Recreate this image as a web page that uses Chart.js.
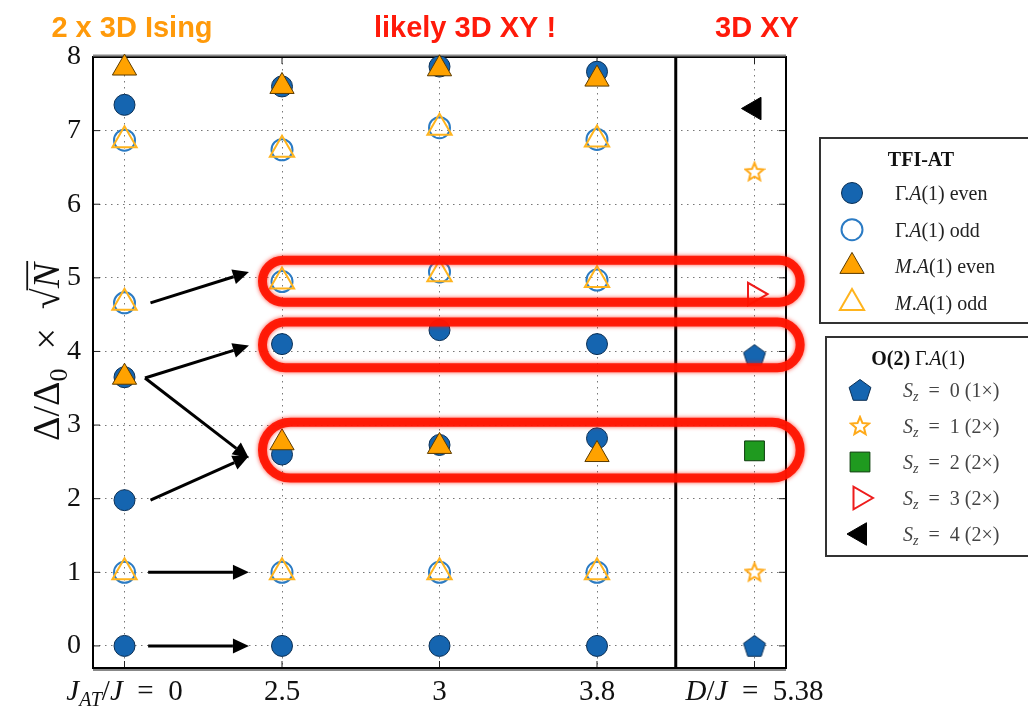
<!DOCTYPE html>
<html>
<head>
<meta charset="utf-8">
<script src="https://cdn.jsdelivr.net/npm/chart.js@4.4.0/dist/chart.umd.min.js"></script>
<style>
  html, body { margin: 0; padding: 0; background: #fff; }
  #wrap { width: 1028px; height: 709px; }
</style>
</head>
<body>
<div id="wrap"><canvas id="gaps" width="1028" height="709"></canvas></div>
<script>
// x positions: 0..3 are J_AT/J = 0, 2.5, 3, 3.8 ; 4 is the O(2) column
var column_labels = ["J_AT/J = 0", "2.5", "3", "3.8", "D/J = 5.38"];
var y_min = -0.3;
var y_max = 8;
var divider_x = 3.5;

// TFI-AT levels, one inner list per column
var gamma_even = [[7.35, 3.65, 1.98, 0], [7.6, 4.1, 2.6, 0], [7.87, 4.29, 2.73, 0], [7.8, 4.1, 2.82, 0]];
var gamma_odd = [[6.87, 4.66, 1], [6.74, 4.95, 1], [7.04, 5.08, 1], [6.88, 4.97, 1]];
var m_even = [[7.85, 3.65], [7.6, 2.76], [7.84, 2.71], [7.7, 2.6]];
var m_odd = [[6.87, 4.66, 1], [6.74, 4.95, 1], [7.04, 5.05, 1], [6.88, 4.97, 1]];

// O(2) levels at D/J = 5.38
var o2_column = 4;
var sz0 = [0, 3.95];
var sz1 = [1, 6.44];
var sz2 = [2.65];
var sz3 = [4.78];
var sz4 = [7.3];

// hand drawn highlight bands [y low, y high], x from band_x0 to band_x1
var bands = [[4.67, 5.24], [3.78, 4.4], [2.28, 3.04]];
var band_x0 = 0.876;
var band_x1 = 4.29;

// arrows [x0, y0, x1, y1]
var arrows = [
  [0.15, 0, 0.79, 0],
  [0.15, 1, 0.79, 1],
  [0.165, 1.98, 0.79, 2.58],
  [0.13, 3.64, 0.79, 2.55],
  [0.13, 3.64, 0.79, 4.08],
  [0.165, 4.66, 0.79, 5.08],
];

var SERIF = '"Liberation Serif", "DejaVu Serif", serif';
var EQ = "\u2002=\u2002";

function columnPoints(cols) {
  var pts = [];
  cols.forEach(function (ys, i) {
    ys.forEach(function (y) { pts.push({ x: i, y: y }); });
  });
  return pts;
}
function o2Points(ys) {
  return ys.map(function (y) { return { x: o2_column, y: y }; });
}

function pentagon() {
  var c = document.createElement("canvas");
  c.width = 26; c.height = 26;
  var g = c.getContext("2d");
  g.beginPath();
  for (var i = 0; i < 5; i++) {
    var a = -Math.PI / 2 + i * 2 * Math.PI / 5;
    g.lineTo(13 + 11.5 * Math.cos(a), 14 + 11.5 * Math.sin(a));
  }
  g.closePath();
  g.fillStyle = "#1565b0";
  g.fill();
  g.strokeStyle = "#0a2f55";
  g.lineWidth = 1;
  g.stroke();
  return c;
}
function star() {
  var c = document.createElement("canvas");
  c.width = 22; c.height = 22;
  var g = c.getContext("2d");
  g.beginPath();
  for (var i = 0; i < 10; i++) {
    var a = -Math.PI / 2 + i * Math.PI / 5;
    var r = i % 2 ? 4.2 : 9.5;
    g.lineTo(11 + r * Math.cos(a), 11.5 + r * Math.sin(a));
  }
  g.closePath();
  g.fillStyle = "#fff";
  g.fill();
  g.strokeStyle = "#ffaa1a";
  g.lineWidth = 2;
  g.stroke();
  return c;
}

var styles = {
  gammaEven: { pointStyle: "circle", radius: 10.5, backgroundColor: "#1565b0", borderColor: "#0a2f55", borderWidth: 1, rotation: 0 },
  gammaOdd: { pointStyle: "circle", radius: 10.5, backgroundColor: "rgba(0,0,0,0)", borderColor: "#2b7bc4", borderWidth: 2, rotation: 0 },
  mEven: { pointStyle: "triangle", radius: 14, backgroundColor: "#ffa200", borderColor: "#5b3b00", borderWidth: 1, rotation: 0 },
  mOdd: { pointStyle: "triangle", radius: 14, backgroundColor: "rgba(0,0,0,0)", borderColor: "#ffb41e", borderWidth: 2, rotation: 0 },
  sz0: { pointStyle: pentagon(), radius: 11, backgroundColor: "#1565b0", borderColor: "#0a2f55", borderWidth: 1, rotation: 0 },
  sz1: { pointStyle: star(), radius: 9, backgroundColor: "#fff", borderColor: "#ffaa1a", borderWidth: 2, rotation: 0 },
  sz2: { pointStyle: "rect", radius: 14, backgroundColor: "#1f9a1f", borderColor: "#0c3d0c", borderWidth: 1, rotation: 0 },
  sz3: { pointStyle: "triangle", radius: 13, backgroundColor: "rgba(0,0,0,0)", borderColor: "#ee1c1c", borderWidth: 2, rotation: 90 },
  sz4: { pointStyle: "triangle", radius: 13, backgroundColor: "#000", borderColor: "#000", borderWidth: 1, rotation: -90 },
};

// order: later series are drawn over earlier ones
function dataset(label, data, s, order) {
  return {
    label: label,
    data: data,
    order: order,
    pointStyle: s.pointStyle,
    pointRadius: s.radius,
    pointHoverRadius: s.radius,
    pointRotation: s.rotation,
    pointBackgroundColor: s.backgroundColor,
    pointBorderColor: s.borderColor,
    pointBorderWidth: s.borderWidth,
    clip: false,
  };
}

// rich text: parts {t, it, b, sub, over}
function partFont(p, size) {
  var s = p.sub ? Math.round(size * 0.68) : size;
  return (p.it ? "italic " : "") + (p.b ? "bold " : "") + s + "px " + SERIF;
}
function richWidth(ctx, parts, size) {
  var w = 0;
  parts.forEach(function (p) { ctx.font = partFont(p, size); w += ctx.measureText(p.t).width; });
  return w;
}
function drawRich(ctx, parts, x, y, size, align) {
  var w = richWidth(ctx, parts, size);
  var cx = align === "center" ? x - w / 2 : x;
  ctx.textAlign = "left";
  ctx.textBaseline = "alphabetic";
  parts.forEach(function (p) {
    ctx.font = partFont(p, size);
    var pw = ctx.measureText(p.t).width;
    ctx.fillText(p.t, cx, y + (p.sub ? size * 0.22 : 0));
    if (p.over) ctx.fillRect(cx - 2, y - size * 0.86, pw + 4, 1.8);
    cx += pw;
  });
}

var tick_parts = [
  [{ t: "J", it: 1 }, { t: "AT", it: 1, sub: 1 }, { t: "/" }, { t: "J", it: 1 }, { t: EQ + "0" }],
  [{ t: column_labels[1] }],
  [{ t: column_labels[2] }],
  [{ t: column_labels[3] }],
  [{ t: "D", it: 1 }, { t: "/" }, { t: "J", it: 1 }, { t: EQ + "5.38" }],
];

var tfi_legend = [
  ["gammaEven", [{ t: "Γ." }, { t: "A", it: 1 }, { t: "(1) even" }]],
  ["gammaOdd", [{ t: "Γ." }, { t: "A", it: 1 }, { t: "(1) odd" }]],
  ["mEven", [{ t: "M", it: 1 }, { t: "." }, { t: "A", it: 1 }, { t: "(1) even" }]],
  ["mOdd", [{ t: "M", it: 1 }, { t: "." }, { t: "A", it: 1 }, { t: "(1) odd" }]],
];
var o2_legend = [
  ["sz0", [{ t: "S", it: 1 }, { t: "z", it: 1, sub: 1 }, { t: EQ + "0 (1×)" }]],
  ["sz1", [{ t: "S", it: 1 }, { t: "z", it: 1, sub: 1 }, { t: EQ + "1 (2×)" }]],
  ["sz2", [{ t: "S", it: 1 }, { t: "z", it: 1, sub: 1 }, { t: EQ + "2 (2×)" }]],
  ["sz3", [{ t: "S", it: 1 }, { t: "z", it: 1, sub: 1 }, { t: EQ + "3 (2×)" }]],
  ["sz4", [{ t: "S", it: 1 }, { t: "z", it: 1, sub: 1 }, { t: EQ + "4 (2×)" }]],
];

function drawMarker(ctx, key, x, y) {
  var s = styles[key];
  ctx.save();
  ctx.fillStyle = s.backgroundColor;
  ctx.strokeStyle = s.borderColor;
  ctx.lineWidth = s.borderWidth;
  Chart.helpers.drawPoint(ctx, s, x, y);
  ctx.restore();
}

function drawLegendBox(ctx, box, title, rows) {
  ctx.save();
  ctx.fillStyle = "#fff";
  ctx.fillRect(box.x, box.y, box.w, box.h);
  ctx.strokeStyle = "#333";
  ctx.lineWidth = 2;
  ctx.strokeRect(box.x, box.y, box.w, box.h);
  ctx.fillStyle = "#111";
  drawRich(ctx, title, box.titleX, box.y + 28, 20, "center");
  rows.forEach(function (r, i) {
    var ry = box.firstRow + i * box.step;
    drawMarker(ctx, r[0], box.markerX, ry);
    ctx.fillStyle = box.textColor;
    drawRich(ctx, r[1], box.textX, ry + 7, 20, "left");
  });
  ctx.restore();
}

var decorations = {
  id: "decorations",
  beforeDatasetsDraw: function (chart) {
    var ctx = chart.ctx, a = chart.chartArea;
    var xs = chart.scales.x, ys = chart.scales.y;
    ctx.save();
    // divider between the two models
    var dx = xs.getPixelForValue(divider_x);
    ctx.strokeStyle = "#000";
    ctx.lineWidth = 3;
    ctx.beginPath();
    ctx.moveTo(dx, a.top);
    ctx.lineTo(dx, a.bottom);
    ctx.stroke();
    // inward tick marks
    ctx.lineWidth = 1;
    ctx.strokeStyle = "#222";
    ctx.beginPath();
    ys.ticks.forEach(function (t) {
      var py = ys.getPixelForValue(t.value);
      ctx.moveTo(a.left, py); ctx.lineTo(a.left + 7, py);
      ctx.moveTo(a.right, py); ctx.lineTo(a.right - 7, py);
    });
    xs.ticks.forEach(function (t) {
      var px = xs.getPixelForValue(t.value);
      ctx.moveTo(px, a.top); ctx.lineTo(px, a.top + 7);
      ctx.moveTo(px, a.bottom); ctx.lineTo(px, a.bottom - 7);
    });
    ctx.stroke();
    // frame
    ctx.strokeStyle = "#000";
    ctx.lineWidth = 2;
    ctx.strokeRect(a.left, a.top, a.right - a.left, a.bottom - a.top);
    ctx.strokeStyle = "#888";
    ctx.lineWidth = 2;
    ctx.beginPath();
    ctx.moveTo(a.left, a.top - 1.5); ctx.lineTo(a.right, a.top - 1.5);
    ctx.moveTo(a.left, a.bottom + 2); ctx.lineTo(a.right, a.bottom + 2);
    ctx.stroke();
    ctx.restore();
  },
  afterDatasetsDraw: function (chart) {
    var ctx = chart.ctx;
    var xs = chart.scales.x, ys = chart.scales.y;
    ctx.save();
    // arrows
    ctx.strokeStyle = "#000";
    ctx.fillStyle = "#000";
    ctx.lineWidth = 3;
    arrows.forEach(function (ar) {
      var x0 = xs.getPixelForValue(ar[0]), y0 = ys.getPixelForValue(ar[1]);
      var x1 = xs.getPixelForValue(ar[2]), y1 = ys.getPixelForValue(ar[3]);
      var ang = Math.atan2(y1 - y0, x1 - x0);
      var hl = 16, hw = 7.5;
      var bx = x1 - hl * Math.cos(ang), by = y1 - hl * Math.sin(ang);
      ctx.beginPath();
      ctx.moveTo(x0, y0);
      ctx.lineTo(bx, by);
      ctx.stroke();
      ctx.beginPath();
      ctx.moveTo(x1, y1);
      ctx.lineTo(bx + hw * Math.sin(ang), by - hw * Math.cos(ang));
      ctx.lineTo(bx - hw * Math.sin(ang), by + hw * Math.cos(ang));
      ctx.closePath();
      ctx.fill();
    });
    // highlight bands
    ctx.strokeStyle = "rgba(255,20,0,0.92)";
    ctx.lineWidth = 9;
    ctx.shadowColor = "rgba(255,20,0,0.8)";
    ctx.shadowBlur = 4;
    bands.forEach(function (b) {
      var top = ys.getPixelForValue(b[1]), bot = ys.getPixelForValue(b[0]);
      var l = xs.getPixelForValue(band_x0), r = xs.getPixelForValue(band_x1);
      var rad = (bot - top) / 2;
      ctx.beginPath();
      ctx.moveTo(l + rad, top);
      ctx.lineTo(r - rad, top);
      ctx.arc(r - rad, top + rad, rad, -Math.PI / 2, Math.PI / 2);
      ctx.lineTo(l + rad, bot);
      ctx.arc(l + rad, top + rad, rad, Math.PI / 2, Math.PI * 1.5);
      ctx.closePath();
      ctx.stroke();
    });
    ctx.restore();
  },
  afterDraw: function (chart) {
    var ctx = chart.ctx;
    var xs = chart.scales.x;
    ctx.save();
    // x tick labels
    ctx.fillStyle = "#111";
    tick_parts.forEach(function (parts, i) {
      drawRich(ctx, parts, xs.getPixelForValue(i), 700, 29, "center");
    });
    // y axis title
    ctx.translate(46, 352);
    ctx.rotate(-Math.PI / 2);
    drawRich(ctx, [{ t: "Δ/Δ" }, { t: "0", sub: 1 }, { t: "\u2002×\u2002√" }, { t: "N", it: 1, over: 1 }], 0, 13, 38, "center");
    ctx.restore();

    // headline labels
    ctx.save();
    ctx.textAlign = "center";
    ctx.textBaseline = "alphabetic";
    ctx.font = 'bold 29px "Liberation Sans Narrow", "Liberation Sans", Arial, sans-serif';
    ctx.fillStyle = "#ff9a0a";
    ctx.fillText("2 x 3D Ising", 132, 37);
    ctx.fillStyle = "#ff1a0a";
    ctx.fillText("likely 3D XY !", 465, 37);
    ctx.fillText("3D XY", 757, 37);
    ctx.restore();

    drawLegendBox(ctx, { x: 820, y: 138, w: 230, h: 185, titleX: 921, markerX: 852, textX: 895, firstRow: 193, step: 36.7, textColor: "#222" },
      [{ t: "TFI-AT", b: 1 }], tfi_legend);
    drawLegendBox(ctx, { x: 826, y: 337, w: 230, h: 219, titleX: 918, markerX: 860, textX: 903, firstRow: 390, step: 36, textColor: "#444" },
      [{ t: "O(2) ", b: 1 }, { t: "Γ." }, { t: "A", it: 1 }, { t: "(1)" }], o2_legend);
  },
};

new Chart(document.getElementById("gaps"), {
  type: "scatter",
  data: {
    datasets: [
      dataset("Γ.A(1) even", columnPoints(gamma_even), styles.gammaEven, 9),
      dataset("Γ.A(1) odd", columnPoints(gamma_odd), styles.gammaOdd, 8),
      dataset("M.A(1) even", columnPoints(m_even), styles.mEven, 7),
      dataset("M.A(1) odd", columnPoints(m_odd), styles.mOdd, 6),
      dataset("Sz = 0 (1×)", o2Points(sz0), styles.sz0, 5),
      dataset("Sz = 1 (2×)", o2Points(sz1), styles.sz1, 4),
      dataset("Sz = 2 (2×)", o2Points(sz2), styles.sz2, 3),
      dataset("Sz = 3 (2×)", o2Points(sz3), styles.sz3, 2),
      dataset("Sz = 4 (2×)", o2Points(sz4), styles.sz4, 1),
    ],
  },
  options: {
    responsive: false,
    animation: false,
    events: [],
    layout: { padding: { top: 57, right: 242, bottom: 0, left: 0 } },
    plugins: {
      legend: { display: false },
      tooltip: { enabled: false },
    },
    scales: {
      x: {
        type: "linear",
        min: -0.2,
        max: 4.2,
        afterFit: function (scale) { scale.height = 41; },
        ticks: { display: false, stepSize: 1, includeBounds: false },
        grid: { color: "#777", lineWidth: 1, drawTicks: false },
        border: { display: false, dash: [1.5, 4.5] },
      },
      y: {
        min: y_min,
        max: y_max,
        afterFit: function (scale) { scale.width = 93; },
        ticks: {
          stepSize: 1,
          includeBounds: false,
          padding: 12,
          color: "#111",
          font: { family: SERIF, size: 28 },
        },
        grid: { color: "#777", lineWidth: 1, drawTicks: false },
        border: { display: false, dash: [1.5, 4.5] },
      },
    },
  },
  plugins: [decorations],
});
</script>
</body>
</html>
